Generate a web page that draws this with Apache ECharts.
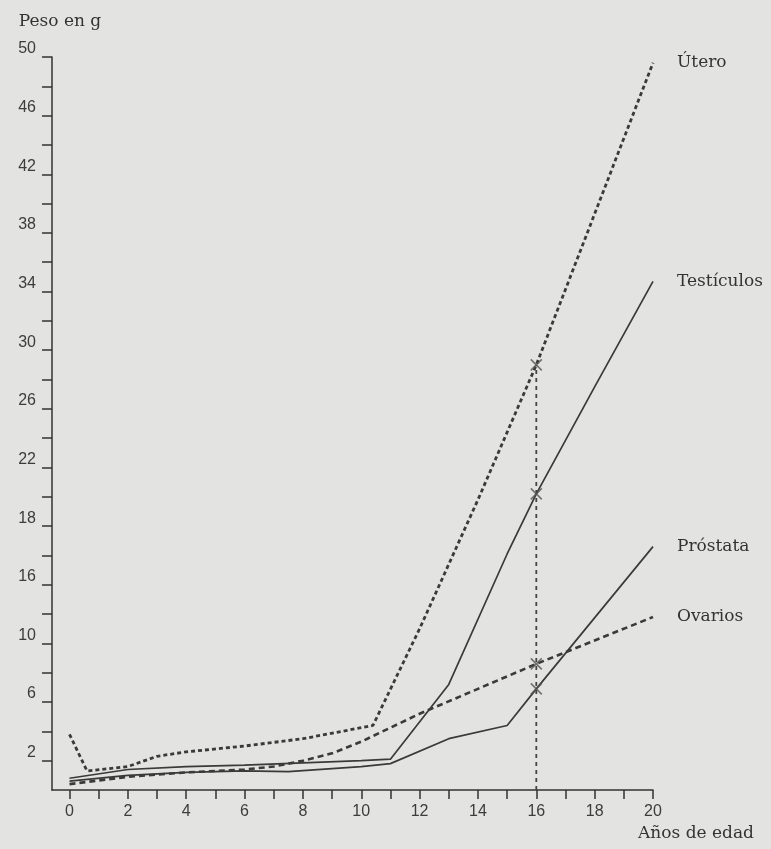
<!DOCTYPE html>
<html>
<head>
<meta charset="utf-8">
<script src="https://cdn.jsdelivr.net/npm/echarts@6/dist/echarts.min.js"></script>
<style>
  html, body { margin: 0; padding: 0; background: #e3e3e1; }
  #chart { width: 771px; height: 849px; }
</style>
</head>
<body>
<div id="chart"></div>
<script>
// ---- Data ----
const uteroX = [0, 0.6, 2, 3, 4, 6, 8, 10.4, 12, 14, 16, 18, 20];
const uteroY = [3.8, 1.3, 1.6, 2.3, 2.6, 3.0, 3.5, 4.4, 11.0, 19.8, 29.0, 39.3, 49.6];

const testiculosX = [0, 2, 4, 6, 8, 10, 11, 13, 15, 16, 18, 20];
const testiculosY = [0.8, 1.4, 1.6, 1.7, 1.85, 2.0, 2.1, 7.2, 16.1, 20.2, 27.5, 34.7];

const prostataX = [0, 2, 4, 6, 7.5, 10, 11, 13, 15, 16, 20];
const prostataY = [0.6, 1.0, 1.2, 1.3, 1.25, 1.6, 1.8, 3.5, 4.4, 6.9, 16.6];

const ovariosX = [0, 2, 4, 6, 7, 8, 9, 10, 12, 14, 16, 18, 20];
const ovariosY = [0.4, 0.9, 1.2, 1.4, 1.6, 2.0, 2.5, 3.3, 5.2, 6.9, 8.6, 10.2, 11.8];

const markAge = 16;

const xTickValues = [0,1,2,3,4,5,6,7,8,9,10,11,12,13,14,15,16,17,18,19,20];
const xLabelValues = [0,2,4,6,8,10,12,14,16,18,20];
const yTickValues = [2,4,6,8,10,12,14,16,18,20,22,24,26,28,30,32,34,36,38,40,42,44,46,48,50];
const yLabelValues = [2,6,10,14,18,22,26,30,34,38,42,46,50];
const yLabelTexts  = ['2','6','10','16','18','22','26','30','34','38','42','46','50'];

// ---- Build ----
const pairs = (xs, ys) => xs.map((x, i) => [x, ys[i]]);
const at = (xs, ys, x) => ys[xs.indexOf(x)];

const ink = '#3a3a3a';
const serif = '"DejaVu Serif", "Liberation Serif", serif';
const sans = '"Liberation Sans", "DejaVu Sans", sans-serif';

const endLabel = {
  show: true,
  formatter: '{a}',
  distance: 24,
  fontFamily: serif,
  fontSize: 17,
  color: '#333'
};

const chart = echarts.init(document.getElementById('chart'), null, { renderer: 'canvas' });
chart.setOption({
  backgroundColor: '#e3e3e1',
  animation: false,
  grid: { left: 52, right: 118, top: 57, bottom: 59, containLabel: false },
  xAxis: {
    type: 'value',
    min: -0.6,
    max: 20,
    name: 'Años de edad',
    nameLocation: 'end',
    nameGap: 43,
    nameTextStyle: {
      fontFamily: serif, fontSize: 17, color: '#333',
      align: 'center', verticalAlign: 'top', padding: [35, 0, 0, 0]
    },
    axisLine: { show: true, onZero: false, lineStyle: { color: '#333', width: 1.5 } },
    axisTick: { show: true, customValues: xTickValues, length: 9, lineStyle: { color: '#333', width: 1.5 } },
    axisLabel: {
      customValues: xLabelValues, margin: 14,
      fontFamily: sans, fontSize: 16, color: '#3c3c3c'
    },
    splitLine: { show: false }
  },
  yAxis: {
    type: 'value',
    min: 0,
    max: 50,
    name: 'Peso en g',
    nameLocation: 'end',
    nameGap: 27,
    nameTextStyle: {
      fontFamily: serif, fontSize: 17, color: '#333',
      align: 'center', padding: [0, 0, 0, 16]
    },
    axisLine: { show: true, onZero: false, lineStyle: { color: '#333', width: 1.5 } },
    axisTick: { show: true, customValues: yTickValues, length: 10, lineStyle: { color: '#333', width: 1.5 } },
    axisLabel: {
      customValues: yLabelValues, margin: 16,
      verticalAlign: 'bottom',
      fontFamily: sans, fontSize: 16, color: '#3c3c3c',
      formatter: v => yLabelTexts[yLabelValues.indexOf(v)]
    },
    splitLine: { show: false }
  },
  series: [
    {
      name: 'Útero', type: 'line', symbol: 'none', silent: true,
      data: pairs(uteroX, uteroY),
      lineStyle: { color: ink, width: 2.8, type: [4, 3] },
      endLabel: endLabel
    },
    {
      name: 'Testículos', type: 'line', symbol: 'none', silent: true,
      data: pairs(testiculosX, testiculosY),
      lineStyle: { color: ink, width: 1.7 },
      endLabel: endLabel
    },
    {
      name: 'Próstata', type: 'line', symbol: 'none', silent: true,
      data: pairs(prostataX, prostataY),
      lineStyle: { color: ink, width: 1.7 },
      endLabel: endLabel
    },
    {
      name: 'Ovarios', type: 'line', symbol: 'none', silent: true,
      data: pairs(ovariosX, ovariosY),
      lineStyle: { color: ink, width: 2.6, type: [6, 4] },
      endLabel: endLabel
    },
    {
      name: 'marca', type: 'line', symbol: 'none', silent: true,
      data: [[markAge, 0], [markAge, at(uteroX, uteroY, markAge)]],
      lineStyle: { color: '#444', width: 1.8, type: [4, 4] },
      z: 1
    },
    {
      name: 'cruces', type: 'scatter', silent: true,
      symbol: 'path://M0,0L10,10M10,0L0,10',
      symbolSize: 11,
      itemStyle: { color: 'none', borderColor: '#555', borderWidth: 1.6 },
      data: [
        [markAge, at(uteroX, uteroY, markAge)],
        [markAge, at(testiculosX, testiculosY, markAge)],
        [markAge, at(prostataX, prostataY, markAge)],
        [markAge, at(ovariosX, ovariosY, markAge)]
      ],
      z: 3
    }
  ]
});
</script>
</body>
</html>
